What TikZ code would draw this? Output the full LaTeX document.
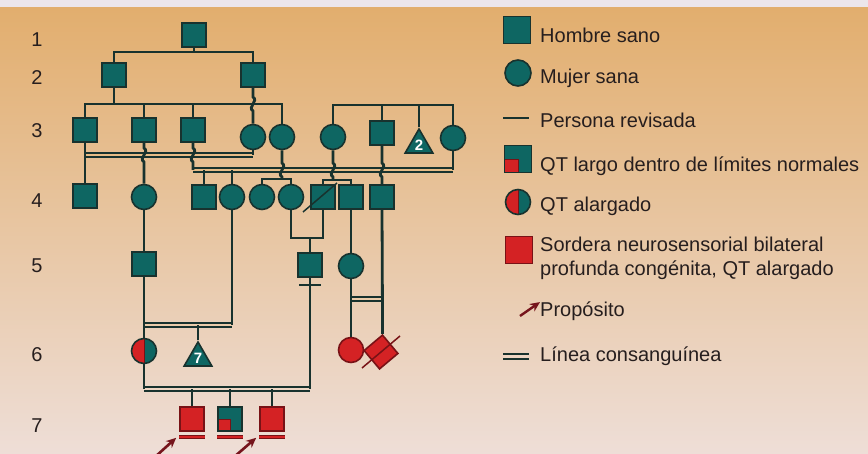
\documentclass[tikz,border=0pt]{standalone}
\usepackage{fontspec}
\setmainfont{Liberation Sans}
\usepackage{xcolor}
\usetikzlibrary{shapes.geometric,arrows.meta}

\definecolor{sano}{RGB}{14,102,98}
\definecolor{edge}{RGB}{24,50,46}
\definecolor{qtred}{RGB}{212,34,36}
\definecolor{qtedge}{RGB}{120,18,22}
\definecolor{arrowred}{RGB}{118,20,28}
\definecolor{ink}{RGB}{38,30,30}
\definecolor{bgtop}{RGB}{226,174,110}
\definecolor{bgmid}{RGB}{233,194,148}
\definecolor{bgbot}{RGB}{238,222,215}
\definecolor{bgstrip}{RGB}{236,230,236}
\definecolor{dblA}{RGB}{231,188,134}
\definecolor{dblB}{RGB}{235,204,170}
\definecolor{dblC}{RGB}{237,214,196}

\begin{document}
\begin{tikzpicture}[x=1pt, y=-1pt,
  kin/.style={draw=edge, line width=2.8pt},
  consang/.style={draw=edge, line width=2pt, double=#1, double distance=2.4pt},
  hop/.style={to path={.. controls +(6,4) and +(-6,-4) .. (\tikztotarget)}},
  person/.style={draw=edge, line width=1.6pt, fill=sano, inner sep=0pt},
  male/.style={person, rectangle, minimum size=24pt},
  female/.style={person, circle, minimum size=25pt},
  sibs/.style={person, regular polygon, regular polygon sides=3, minimum size=32pt,
    text=white, font=\fontsize{15}{15}\selectfont\bfseries},
  sick/.style={fill=qtred, draw=qtedge},
  longqt/.style={path picture={\filldraw[fill=qtred, draw=qtedge, line width=0.9pt]
    (path picture bounding box.south west) rectangle (path picture bounding box.center);}},
  halfqt/.style={path picture={\filldraw[fill=qtred, draw=qtedge, line width=0.9pt]
    (path picture bounding box.south west) rectangle (path picture bounding box.north);}},
  deceased/.style={draw=edge, line width=1.5pt},
  revised/.style={draw=qtedge, line width=0.9pt, double=qtred, double distance=1.8pt},
  proband/.style={draw=arrowred, line width=2.6pt, -{Stealth[length=10pt, width=9pt]}},
  gentext/.style={anchor=base, inner sep=0pt, text=ink, font=\fontsize{20}{24}\selectfont},
  legtext/.style={anchor=base west, inner sep=0pt, text=ink, font=\fontsize{20}{24}\selectfont}]

\useasboundingbox (0,0) rectangle (868,454);
% Paper
\fill[bgstrip] (0,0) rectangle (868,8);
\shade[top color=bgtop, middle color=bgmid, bottom color=bgbot] (0,8) rectangle (868,454);

% Generation numbers
\foreach \g/\y in {1/47, 2/85, 3/138, 4/208, 5/273, 6/362, 7/432}
  \node[gentext] (gen\g) at (37,\y) {\g};

% Generation 1 and 2
\node[male] (i1) at (194,35) {};
\node[male] (ii1) at (114,75) {};
\node[male] (ii2) at (253,75) {};

% Generation 3
\node[male] (iii1) at (85,130) {};
\node[male] (iii2) at (144,130) {};
\node[male] (iii3) at (193,130) {};
\node[female] (iii4) at (253,137) {};
\node[female] (iii5) at (282,137) {};
\node[female] (iii6) at (333,137) {};
\node[male] (iii7) at (382,133) {};
\node[sibs] (iii8) at (419,145) {2};
\node[female] (iii9) at (453,138) {};

% Generation 4
\node[male] (iv1) at (85,196) {};
\node[female] (iv2) at (144,197) {};
\node[male] (iv3) at (204,197) {};
\node[female] (iv4) at (232,197) {};
\node[female] (iv5) at (262,197) {};
\node[female] (iv6) at (291,197) {};
\node[male] (iv7) at (323,197) {};
\node[male] (iv8) at (351,197) {};
\node[male] (iv9) at (382,197) {};

% Generation 5
\node[male] (v1) at (144,264) {};
\node[male] (v2) at (310,265) {};
\node[female] (v3) at (351,266) {};

% Generation 6
\node[female, halfqt] (vi1) at (144,351) {};
\node[sibs] (vi2) at (198,358) {7};
\node[female, sick] (vi3) at (351,350) {};
\node[male, sick, rotate=40] (vi4) at (381,352) {};

% Generation 7
\node[male, sick] (vii1) at (192,419) {};
\node[male, longqt] (vii2) at (230,419) {};
\node[male, sick] (vii3) at (272,419) {};

% Generation 1 -> 2 -> 3
\draw[kin] (i1.south) -- (i1.south |- 0,52);
\draw[kin] (ii1.north) -- (ii1.north |- 0,52) -| (ii2.north);
\draw[kin] (ii1.south) -- (ii1.south |- 0,104);
\draw[kin] (iii1.north) -- (iii1.north |- 0,104) -| (iii5.north);
\foreach \n in {iii2,iii3}
  \draw[kin] (\n.north) -- (\n.north |- 0,104);
\draw[kin] (ii2.south) -- (ii2.south |- 0,97) to[hop] (ii2.south |- 0,111) -- (iii4.north);
\draw[kin] (iii6.north) -- (iii6.north |- 0,105) -| (iii9.north);
\foreach \n in {iii7,iii8}
  \draw[kin] (\n.north) -- (\n.north |- 0,105);

% Consanguineous lines
\draw[consang=dblA] (iii1.south |- 0,155) -- (iii4.south |- 0,155);
\draw[kin] (iii4.south) -- (iii4.south |- 0,155);
\draw[consang=dblA] (iii3.south |- 0,170) -- (iii9.south |- 0,170);
\draw[kin] (iii9.south) -- (iii9.south |- 0,170);
\draw[consang=dblB] (v3.south |- 0,299) -- (iv9.south |- 0,299);
\draw[consang=dblB] (v1.south |- 0,325) -- (iv4.south |- 0,325);
\draw[consang=dblC] (vi1.south |- 0,389) -- (v2.south |- 0,389);

% Generation 3 -> 4
\draw[kin] (iii1.south) -- (iv1.north);
\draw[kin] (iii2.south) -- (iii2.south |- 0,148) to[hop] (iii2.south |- 0,162) -- (iv2.north);
\draw[kin] (iii3.south) -- (iii3.south |- 0,148) to[hop] (iii3.south |- 0,162) -- (iii3.south |- 0,170);
\foreach \n in {iv3,iv4}
  \draw[kin] (\n.north) -- (\n.north |- 0,170);
\draw[kin] (iii5.south) -- (iii5.south |- 0,163) to[hop] (iii5.south |- 0,177) -- (iii5.south |- 0,179);
\draw[kin] (iv5.north) -- (iv5.north |- 0,179) -| (iv6.north);
\draw[kin] (iii6.south) -- (iii6.south |- 0,163) to[hop] (iii6.south |- 0,177) -- (iii6.south |- 0,180);
\draw[kin] (iv7.north) -- (iv7.north |- 0,180) -| (iv8.north);
\draw[kin] (iii7.south) -- (iii7.south |- 0,163) to[hop] (iii7.south |- 0,177) -- (iv9.north);
\draw[deceased] ([shift={(-20,15)}]iv7.center) -- ([shift={(14,-14)}]iv7.center);

% Generation 4 -> 5 -> 6
\draw[kin] (iv2.south) -- (v1.north);
\draw[kin] (iv6.south) -- (iv6.south |- 0,238) -| (iv7.south);
\draw[kin] (v2.north) -- (v2.north |- 0,238);
\draw[kin] (iv8.south) -- (v3.north);
\draw[kin] (v1.south) -- (vi1.north);
\draw[kin] (iv4.south) -- (iv4.south |- 0,325);
\draw[kin] (vi2.north) -- (vi2.north |- 0,325);
\draw[kin] (v2.south) -- (v2.south |- 0,389);
\draw[kin] (v2.south |- 0,285) ++(-11,0) -- ++(22,0);
\draw[kin] (v3.south) -- (vi3.north);
\draw[kin] (iv9.south) -- (vi4.north east);
\draw[deceased, draw=qtedge] ([shift={(-19,16)}]vi4.center) -- ([shift={(19,-16)}]vi4.center);

% Generation 6 -> 7
\draw[kin] (vi1.south) -- (vi1.south |- 0,389);
\foreach \n in {vii1,vii2,vii3} {
  \draw[kin] (\n.north) -- (\n.north |- 0,389);
  \draw[revised] ([yshift=-5pt]\n.south west) -- ([yshift=-5pt]\n.south east);
}
\coordinate (pa) at (155,457);
\coordinate (pb) at (234,457);
\draw[proband] (pa) -- ([shift={(-3,6)}]vii1.south west);
\draw[proband] (pb) -- ([shift={(-3,6)}]vii3.south west);

% Legend
\node[male, minimum size=27pt] (lmale) at (517,30) {};
\node[legtext] (tmale) at (540,43) {Hombre sano};
\node[female, minimum size=26pt] (lfemale) at (518,73) {};
\node[legtext] (tfemale) at (540,84) {Mujer sana};
\coordinate (lrev) at (503,118);
\draw[kin] (lrev) -- ++(26,0);
\node[legtext] (trev) at (540,128) {Persona revisada};
\node[male, longqt, minimum size=27pt] (lqt) at (518,159) {};
\node[legtext] (tqt) at (540,172) {QT largo dentro de límites normales};
\node[female, halfqt, minimum size=25pt] (lhalf) at (518,202) {};
\node[legtext] (thalf) at (540,212) {QT alargado};
\node[male, sick, minimum size=27pt] (lsick) at (519,250) {};
\node[legtext, anchor=north west, align=left] (tsick) at (540,237)
  {Sordera neurosensorial bilateral\\profunda congénita, QT alargado};
\node[legtext] (tprop) at (540,317) {Propósito};
\coordinate (lprop) at (520,316);
\draw[proband, line width=2.4pt] (lprop) -- (tprop.north west);
\coordinate (lcons) at (503,356.5);
\draw[consang=dblC] (lcons) -- ++(26,0);
\node[legtext] (tcons) at (540,362) {Línea consanguínea};
\end{tikzpicture}
\end{document}
